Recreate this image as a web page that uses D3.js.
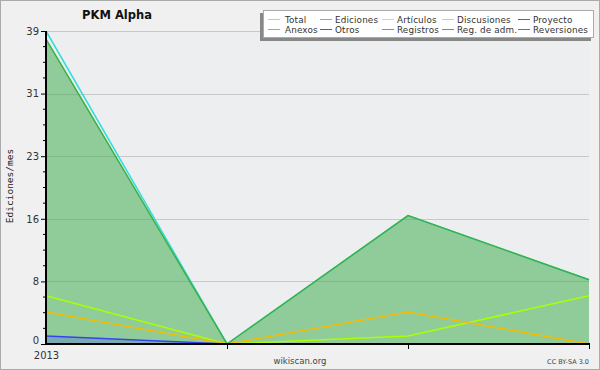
<!DOCTYPE html>
<html><head><meta charset="utf-8">
<script src="https://cdn.jsdelivr.net/npm/d3@7"></script>
<style>body{margin:0;background:#fff}svg{display:block}</style>
</head><body>
<svg id="c" width="600" height="370"></svg>
<script>
const months = ["2013-01","2013-02","2013-03","2013-04"];
const monthLabels = ["2013","","",""];
const total = [39, 0, 16, 8];
const ediciones = [38, 0, 16, 8];
const articulos = [6, 0, 1, 6];
const discusiones = [4, 0, 4, 0];
const proyecto = [0, 0, 0, 0];
const anexos = [0, 0, 0, 0];
const otros = [0, 0, 0, 0];
const registros = [1, 0, 0, 0];
const regAdm = [0, 0, 0, 0];
const reversiones = [0, 0, 0, 0];
const yMax = 39;

const legendNames = ["Total","Ediciones","Artículos","Discusiones","Proyecto","Anexos","Otros","Registros","Reg. de adm.","Reversiones"];
const legendColors = ["#7fe3e3","#6cc46c","#c6ee55","#ffcc33","#666666","#ff8844","#8833ee","#7788ff","#dd44ff","#ff3333"];

const svg = d3.select("#c");
svg.append("rect").attr("x",0.5).attr("y",0.5).attr("width",599).attr("height",369)
  .attr("fill","#f0f0f0").attr("stroke","#aaaaaa");

const x = d3.scalePoint().domain(months).range([46,589]);
const y = d3.scaleLinear().domain([0,yMax]).range([344,31]);

svg.append("rect").attr("x",46).attr("y",31).attr("width",543).attr("height",313).attr("fill","#edeef0");

// grid
const major = d3.range(0,6).map(i=>i*yMax/5);
const minor = d3.range(0,21).map(i=>i*yMax/20);
svg.append("g").selectAll("line").data(major.slice(1)).join("line")
  .attr("x1",46).attr("x2",589).attr("y1",d=>Math.round(y(d))+0.5).attr("y2",d=>Math.round(y(d))+0.5)
  .attr("stroke","#c8c8c8").attr("stroke-width",1);

// areas
const area = d3.area().x((d,i)=>x(months[i])).y0(y(0)).y1(d=>y(d));
svg.append("path").datum(ediciones).attr("d",area).attr("fill","#33aa44").attr("fill-opacity",0.5);
svg.append("path").datum(registros).attr("d",area).attr("fill","#3344ff").attr("fill-opacity",0.25);

const line = d3.line().x((d,i)=>x(months[i])).y(d=>y(d));
const series = [
  [reversiones,"#ff3333"],[regAdm,"#dd44ff"],[otros,"#8833ee"],[anexos,"#ff8844"],[proyecto,"#555555"],
  [total,"#33dddd"],[ediciones,"#3cb043"],[articulos,"#aaff00"],[discusiones,"#f5bb00"],[registros,"#3344ee"]
];
series.forEach(([d,c])=>{
  svg.append("path").datum(d).attr("d",line).attr("fill","none").attr("stroke",c).attr("stroke-width",1.5);
});

// axes
const yAxis = d3.axisLeft(y).tickValues(major).tickFormat(d=>Math.round(d)).tickSize(5).tickPadding(2);
const gy = svg.append("g").attr("transform","translate(46,0)").call(yAxis);
gy.select(".domain").attr("stroke","#000").attr("stroke-width",2).attr("d","M0,31V344");
gy.selectAll(".tick line").attr("stroke","#000");
gy.selectAll(".tick text").attr("font-family","DejaVu Sans").attr("font-size",10).attr("fill","#333")
  .attr("dy",d=>d===0?"-0.05em":"0.32em");
svg.append("g").selectAll("line").data(minor.filter((d,i)=>i%4!==0)).join("line")
  .attr("x1",43).attr("x2",46).attr("y1",d=>y(d)).attr("y2",d=>y(d)).attr("stroke","#000");

const xAxis = d3.axisBottom(x).tickFormat((d,i)=>monthLabels[i]).tickSize(5).tickPadding(1);
const gx = svg.append("g").attr("transform","translate(0,344)").call(xAxis);
gx.select(".domain").attr("stroke","#000").attr("stroke-width",2).attr("d","M46,0H590");
gx.selectAll(".tick line").attr("stroke","#000").attr("y1",0).attr("y2",d=>d===months[0]?0:5);
gx.selectAll(".tick text").attr("font-family","DejaVu Sans").attr("font-size",10).attr("fill","#333").attr("dy","0.85em");

// texts
svg.append("text").attr("x",117).attr("y",19).attr("text-anchor","middle")
  .attr("font-family","DejaVu Sans").attr("font-weight","bold").attr("font-size",11.5).attr("fill","#111").text("PKM Alpha");
svg.append("text").attr("transform","translate(13,186) rotate(-90)").attr("text-anchor","middle")
  .attr("font-family","DejaVu Sans Mono").attr("font-size",9.5).attr("fill","#222").text("Ediciones/mes");
svg.append("text").attr("x",300).attr("y",364).attr("text-anchor","middle")
  .attr("font-family","DejaVu Sans").attr("font-size",8.5).attr("fill","#444").text("wikiscan.org");
svg.append("text").attr("x",589).attr("y",364).attr("text-anchor","end")
  .attr("font-family","DejaVu Sans").attr("font-size",6.5).attr("fill","#444").text("CC BY-SA 3.0");

// legend
const lg = svg.append("g");
lg.append("rect").attr("x",260).attr("y",13).attr("width",331).attr("height",28).attr("fill","#888");
lg.append("rect").attr("x",263.5).attr("y",10.5).attr("width",330).attr("height",27).attr("fill","#fff").attr("stroke","#aaa");
const colSw = [268,320,382,442,518];
const colTx = [285,335,397,457,533];
legendNames.forEach((n,i)=>{
  const col = i%5, row = Math.floor(i/5);
  const yy = 19.5 + row*10;
  lg.append("line").attr("x1",colSw[col]).attr("x2",colSw[col]+12).attr("y1",yy).attr("y2",yy)
    .attr("stroke",legendColors[i]).attr("stroke-width",1);
  lg.append("text").attr("x",colTx[col]).attr("y",yy+3.5).attr("font-family","DejaVu Sans")
    .attr("font-size",8.8).attr("letter-spacing",0.15).attr("fill","#333").text(n);
});
</script>
</body></html>
